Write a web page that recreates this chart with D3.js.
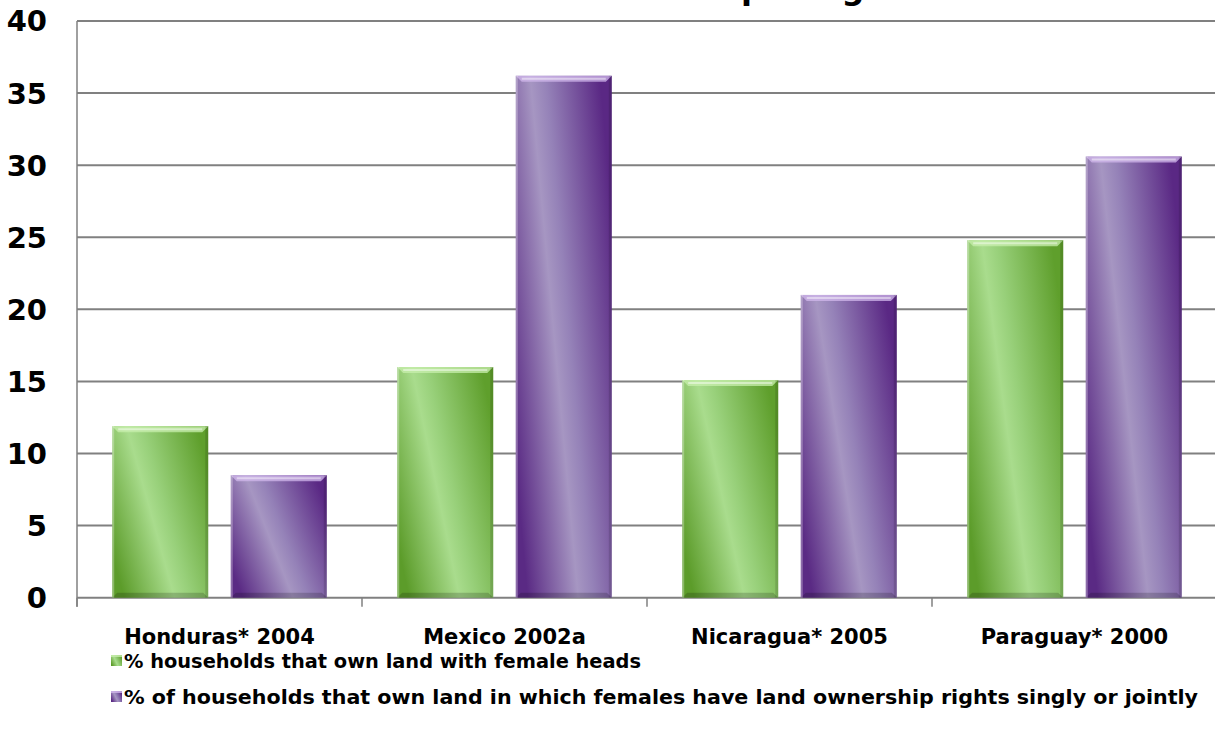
<!DOCTYPE html>
<html>
<head>
<meta charset="utf-8">
<script src="https://cdn.jsdelivr.net/npm/d3@7/dist/d3.min.js"></script>
<style>
  html, body { margin: 0; padding: 0; background: #ffffff; }
  svg { display: block; }
  text { font-family: "DejaVu Sans", Verdana, sans-serif; font-weight: bold; fill: #000; }
</style>
</head>
<body>
<svg id="chart" width="1215" height="741"></svg>
<script>
// Land ownership by households, share (%)
const categories = ["Honduras* 2004", "Mexico 2002a", "Nicaragua* 2005", "Paraguay* 2000"];
const seriesNames = [
  "% households that own land with female heads",
  "% of households that own land in which females have land ownership rights singly or jointly"
];
const femaleHeads = [11.9, 16.0, 15.1, 24.8];
const femaleRights = [8.5, 36.2, 21.0, 30.6];
const yTicks = [0, 5, 10, 15, 20, 25, 30, 35, 40];
const titleText = "Land ownership and gender";

const svg = d3.select("#chart");
const W = 1215, H = 741;
const plotLeft = 77, plotRight = 1217, plotTop = 21, plotBottom = 597.7;

const x = d3.scaleBand().domain(categories).range([plotLeft, plotRight]).paddingInner(0).paddingOuter(0);
const xs = d3.scaleBand().domain([0, 1]).range([0, x.bandwidth()]).paddingInner(0.19).paddingOuter(0.297);
const y = d3.scaleLinear().domain([0, 40]).range([plotBottom, plotTop]);

// Gradients for the glossy bars
const defs = svg.append("defs");
const palettes = [
  { id: "g0", stops: [["0", "#5c9c2a"], ["0.42", "#a9dc8d"], ["0.55", "#98d07a"], ["1", "#5f9f2c"]] },
  { id: "g1", stops: [["0", "#5a2a84"], ["0.42", "#a696c2"], ["0.55", "#9582b8"], ["1", "#5a2884"]] }
];
palettes.forEach(p => {
  const g = defs.append("linearGradient").attr("id", p.id)
    .attr("x1", 0).attr("y1", 0.75).attr("x2", 1).attr("y2", 0.25);
  p.stops.forEach(s => g.append("stop").attr("offset", s[0]).attr("stop-color", s[1]));
});
const topFills = ["#c8efae", "#d2b8ec"];

// Title sits above the top edge; only its descenders reach into view
const title = svg.append("text").attr("y", -1.5)
  .attr("font-size", 32).attr("letter-spacing", -2).text(titleText);
const pIndex = titleText.indexOf("p");
const pOffset = title.node().getSubStringLength(0, pIndex);
title.attr("x", 741 - pOffset);

// Gridlines
svg.append("g").selectAll("line").data(yTicks).join("line")
  .attr("x1", plotLeft).attr("x2", W)
  .attr("y1", d => y(d)).attr("y2", d => y(d))
  .attr("stroke", "#808080").attr("stroke-width", 2);

// Left axis line
svg.append("line").attr("x1", plotLeft).attr("x2", plotLeft)
  .attr("y1", plotTop).attr("y2", plotBottom + 9)
  .attr("stroke", "#808080").attr("stroke-width", 1.5);

// Category separator ticks
svg.append("g").selectAll("line").data(categories).join("line")
  .attr("x1", d => x(d)).attr("x2", d => x(d))
  .attr("y1", plotBottom).attr("y2", plotBottom + 9)
  .attr("stroke", "#808080").attr("stroke-width", 1.5);

// Y tick labels
svg.append("g").selectAll("text").data(yTicks).join("text")
  .attr("x", 47).attr("y", d => y(d))
  .attr("dy", "0.36em")
  .attr("text-anchor", "end")
  .attr("font-size", 29)
  .text(d => d);

// Bars
const seriesValues = [femaleHeads, femaleRights];
const barG = svg.append("g");
seriesValues.forEach((vals, si) => {
  categories.forEach((c, ci) => {
    const bx = x(c) + xs(si), bw = xs.bandwidth();
    const by = y(vals[ci]), bh = plotBottom - by;
    const g = barG.append("g");
    g.append("rect").attr("x", bx).attr("y", by).attr("width", bw).attr("height", bh)
      .attr("fill", `url(#${palettes[si].id})`);
    // bevel: lighter top cap
    g.append("path")
      .attr("d", `M${bx},${by} L${bx + bw},${by} L${bx + bw - 6},${by + 6} L${bx + 6},${by + 6} Z`)
      .attr("fill", topFills[si]).attr("opacity", 0.75);
    g.append("line").attr("x1", bx + 6).attr("x2", bx + bw - 6)
      .attr("y1", by + 3).attr("y2", by + 3)
      .attr("stroke", "#ffffff").attr("stroke-opacity", 0.45).attr("stroke-width", 2);
    // bevel: darker bottom edge
    g.append("path")
      .attr("d", `M${bx},${plotBottom} L${bx + bw},${plotBottom} L${bx + bw - 5},${plotBottom - 5} L${bx + 5},${plotBottom - 5} Z`)
      .attr("fill", "#000").attr("opacity", 0.18);
    // side edges
    g.append("rect").attr("x", bx).attr("y", by).attr("width", 2).attr("height", bh)
      .attr("fill", "#ffffff").attr("opacity", 0.3);
    g.append("rect").attr("x", bx + bw - 3).attr("y", by).attr("width", 3).attr("height", bh)
      .attr("fill", "#000").attr("opacity", 0.12);
  });
});

// Category labels
svg.append("g").selectAll("text").data(categories).join("text")
  .attr("x", d => x(d) + x.bandwidth() / 2).attr("y", 644)
  .attr("text-anchor", "middle")
  .attr("font-size", 21)
  .text(d => d);

// Legend
const legendWidths = [517, 1074];
const legend = svg.append("g");
seriesNames.forEach((name, i) => {
  const ly = 668 + i * 36;
  legend.append("rect").attr("x", 111).attr("y", ly - 13).attr("width", 11).attr("height", 11)
    .attr("fill", `url(#${palettes[i].id})`);
  legend.append("rect").attr("x", 111).attr("y", ly - 13).attr("width", 11).attr("height", 2)
    .attr("fill", topFills[i]).attr("opacity", 0.8);
  legend.append("text").attr("x", 124).attr("y", ly)
    .attr("font-size", 19.5)
    .attr("textLength", legendWidths[i]).attr("lengthAdjust", "spacingAndGlyphs")
    .text(name);
});
</script>
</body>
</html>
